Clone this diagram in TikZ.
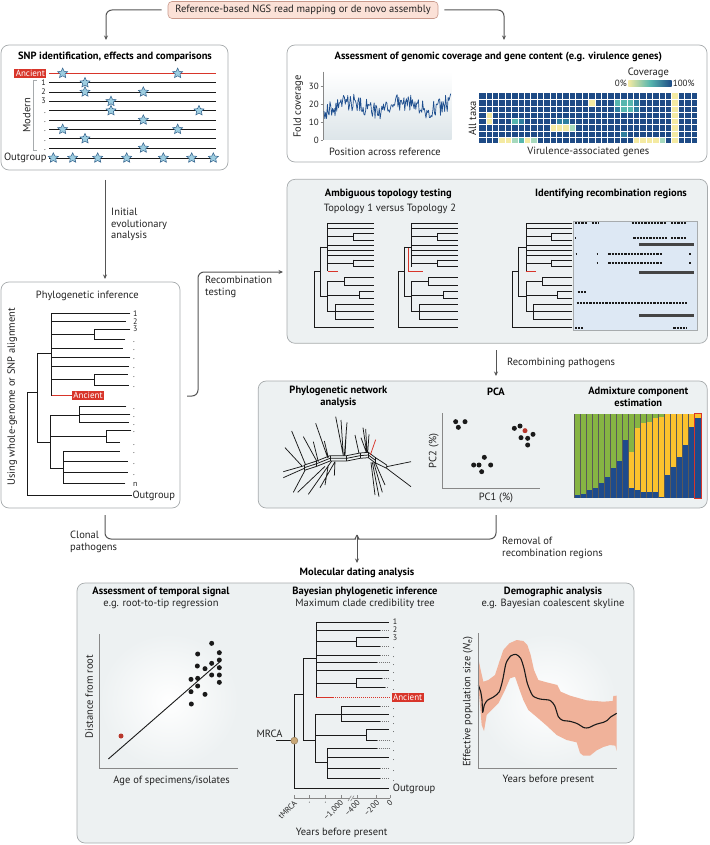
\documentclass[tikz,border=0pt]{standalone}
\usepackage{fontspec}
\setmainfont{PT Sans}
\usetikzlibrary{shapes.geometric,arrows.meta,calc}
\definecolor{boxgray}{HTML}{A7ABAD}
\definecolor{panelbg}{HTML}{EDF1F2}
\definecolor{flowgray}{HTML}{555555}
\definecolor{topfill}{HTML}{FBE1D7}
\definecolor{topdraw}{HTML}{C99A8C}
\definecolor{ancred}{HTML}{D8352A}
\definecolor{starfill}{HTML}{9DCDE0}
\definecolor{stardraw}{HTML}{2F5F8A}
\definecolor{hmblue}{HTML}{1E4B86}
\definecolor{hmyellow}{HTML}{F4EAA2}
\definecolor{hmteal}{HTML}{56B6AE}
\definecolor{hmmid}{HTML}{2F7F9E}
\definecolor{hmlight}{HTML}{A6D9BD}
\definecolor{covblue}{HTML}{1F4F8F}
\definecolor{covbg}{HTML}{DDE5E9}
\definecolor{recbg}{HTML}{DDE8F4}
\definecolor{bargray}{HTML}{444444}
\definecolor{admgreen}{HTML}{86B443}
\definecolor{admyellow}{HTML}{FBC22E}
\definecolor{admblue}{HTML}{1E4B8C}
\definecolor{band}{HTML}{F0B29A}
\definecolor{mrca}{HTML}{C9A877}
\definecolor{mrcad}{HTML}{8A7350}
\definecolor{treeblk}{HTML}{1A1A1A}
\definecolor{dotgray}{HTML}{777777}
\definecolor{axgray}{HTML}{888888}
\definecolor{txtc}{HTML}{222222}
\definecolor{reddot}{HTML}{B8372C}
\begin{document}
\begin{tikzpicture}[x=1pt,y=-1pt,
  panel/.style={draw=boxgray, line width=0.7pt, rounded corners=8pt, fill=white, inner sep=0pt},
  gpanel/.style={panel, fill=panelbg},
  flow/.style={draw=flowgray, line width=1pt, rounded corners=6pt},
  arr/.style={-{Stealth[length=4.5pt,width=4pt]}},
  tx/.style={font=\fontsize{10.5}{11.5}\selectfont, inner sep=0pt, text=txtc},
  bt/.style={font=\bfseries\fontsize{10.5}{11.5}\selectfont, inner sep=0pt, text=black},
  sm/.style={font=\fontsize{9}{9.5}\selectfont, inner sep=0pt, text=txtc},
  tl/.style={font=\fontsize{8}{8.5}\selectfont, inner sep=0pt, text=txtc},
  br/.style={draw=treeblk, line width=0.8pt, line cap=rect},
  rb/.style={draw=ancred, line width=0.8pt},
  dotl/.style={draw=dotgray, line width=0.8pt, dash pattern=on 1pt off 1pt},
  anc/.style={fill=ancred, text=white, font=\fontsize{9}{9.5}\selectfont, inner xsep=1.5pt, inner ysep=1.2pt},
  snpstar/.style={star, star points=5, star point ratio=2.1, minimum size=10.5pt, inner sep=0pt, fill=starfill, draw=stardraw, line width=0.5pt},
  bdot/.style={circle, fill=treeblk, inner sep=0pt, minimum size=5pt},
  axisl/.style={draw=axgray, line width=0.6pt},
]
\useasboundingbox (0,0) rectangle (709,845);

% ---------- panels ----------
\node[tx, draw=topdraw, fill=topfill, rounded corners=4pt, minimum width=270pt, minimum height=17pt, line width=0.6pt] (top) at (303,10) {Reference-based NGS read mapping or de novo assembly};
\node[panel, minimum width=227pt, minimum height=125pt] (snp) at (114.5,107.5) {};
\node[panel, minimum width=420pt, minimum height=117pt] (cov) at (497,103.5) {};
\node[panel, minimum width=179pt, minimum height=226pt] (phy) at (90.5,395) {};
\node[gpanel, minimum width=420.5pt, minimum height=164pt] (topo) at (497.3,261.3) {};
\node[gpanel, minimum width=449pt, minimum height=127pt] (net) at (482.7,444.5) {};
\node[gpanel, minimum width=557pt, minimum height=260pt] (mol) at (355.5,713) {};

% ---------- flow ----------
\coordinate (snpin) at (106,40);
\coordinate (covin) at (504,40);
\draw[flow,arr,shorten <=6pt] (top.west) -| (snpin);
\draw[flow,arr,shorten <=6pt] (top.east) -| (covin);
\coordinate (snpo) at (105,180);
\coordinate (phyi) at (105,279);
\draw[flow,arr] (snpo) -- (phyi);
\node[tx, anchor=north west, align=left] (iea) at (111,208) {Initial\\evolutionary\\analysis};
\coordinate (rto) at (187,396);
\coordinate (topi) at (283,272);
\draw[flow,arr] (rto) -- ++(11,0) |- (topi);
\node[tx, anchor=north west, align=left] (rtl) at (205,276) {Recombination\\testing};
\coordinate (rpo) at (496,350);
\coordinate (rpi) at (496,376);
\draw[flow,arr] (rpo) -- (rpi);
\node[tx, anchor=west] (rpl) at (507,363) {Recombining pathogens};
\coordinate (clo) at (105,515);
\coordinate (rmo) at (496,515);
\coordinate (cusp) at (357,535);
\coordinate (mdi) at (357,563);
\draw[flow] (clo) |- ($(cusp)+(-7,4)$) to[out=0,in=270] (cusp);
\draw[flow] (rmo) |- ($(cusp)+(7,4)$) to[out=180,in=270] (cusp);
\draw[flow,arr] (cusp) -- (mdi);
\node[tx, anchor=north west, align=left] (cll) at (70,531) {Clonal\\pathogens};
\node[tx, anchor=north west, align=left] (rml) at (502,537) {Removal of\\recombination regions};
\node[bt] (mdl) at (357,573) {Molecular dating analysis};

% ---------- SNP panel ----------
\begin{scope}[shift={(0,40)}, x=0.33333pt, y=-0.33333pt]
\node[bt] (snpt) at (345,50) {SNP identification, effects and comparisons};
\draw[ancred, line width=0.8pt] (147,100) -- (648,100);
\node[anc, anchor=east] (snpanc) at (140,100) {Ancient};
\foreach \y/\lab [count=\i] in {128/1,156/2,184/3,212/.,240/.,268/.,296/.,324/.}{
  \draw[treeblk, line width=0.8pt] (147,\y) -- (648,\y);
  \node[tl, anchor=base east] (snl\i) at (138,{\y+8}) {\lab};
}
\draw[treeblk, line width=0.8pt] (147,354) -- (648,354);
\node[tx, anchor=east] (snpout) at (140,354) {Outgroup};
\draw[boxgray, line width=0.8pt] (110,122) -- (100,122) -- (100,330) -- (110,330);
\node[tx, rotate=90] (modern) at (80,226) {Modern};
\foreach \x/\y [count=\i] in {188/100,533/100,255/128,255/156,430/156,333/184,333/212,597/212,430/240,188/268,533/268,255/296,430/324,160/354,218/354,293/354,380/354,490/354,575/354,640/354}{
  \node[snpstar] (st\i) at (\x,\y) {};
}
\end{scope}

% ---------- Phylogenetic inference ----------
\begin{scope}[shift={(0,230)}, x=0.33333pt, y=-0.33333pt]
\node[tx] (pit) at (262,197) {Phylogenetic inference};
\node[tx, rotate=90] (piy) at (37,500) {Using whole-genome or SNP alignment};
\draw[br] (82,487) -- (82,795) -- (395,795)
  (82,487) -- (112,487) (112,370) -- (112,638)
  (112,370) -- (155,370) (112,638) -- (150,638)
  (155,250) -- (155,497)
  (155,250) -- (390,250) (155,274) -- (377,274)
  (155,312) -- (284,312) (284,297) -- (284,328) (284,297) -- (390,297) (284,328) -- (375,328)
  (155,354) -- (368,354) (155,381) -- (390,381) (155,408) -- (386,408)
  (155,449) -- (284,449) (284,433) -- (284,465) (284,433) -- (383,433) (284,465) -- (385,465)
  (150,555) -- (150,715)
  (150,555) -- (238,555) (238,530) -- (238,577) (238,530) -- (378,530) (238,553) -- (390,553) (238,577) -- (385,577)
  (150,618) -- (318,618) (318,600) -- (318,637) (318,600) -- (393,600) (318,637) -- (358,637)
  (150,715) -- (190,715) (190,663) -- (190,760) (190,663) -- (358,663) (190,695) -- (383,695) (190,728) -- (383,728) (190,760) -- (375,760);
\draw[rb] (155,497) -- (215,497);
\node[anc, anchor=west] (pianc) at (215,497) {Ancient};
\foreach \y/\lab [count=\i] in {250/1,274/2,297/3,328/.,354/.,381/.,408/.,433/.,465/.,530/.,553/.,577/.,600/.,637/.,663/.,695/.,728/.,760/n}{
  \node[tl, anchor=base west] (pl\i) at (399,{\y+8}) {\lab};
}
\node[tx, anchor=base west] (plout) at (397,805) {Outgroup};
\end{scope}

% ---------- Coverage panel ----------
\begin{scope}[shift={(285,40)}, x=0.33333pt, y=-0.33333pt]
\node[bt] (covt) at (640,50) {Assessment of genomic coverage and gene content (e.g. virulence genes)};
\shade[top color=white, bottom color=covbg] (115,95) rectangle (500,300);
\draw[axisl] (115,95) -- (115,300);
\foreach \val/\yy in {0/300,10/246.7,20/193.3,30/140}{
  \draw[axisl] (107,\yy) -- (115,\yy);
  \node[sm, anchor=east] (cv\val) at (102,\yy) {\val};
}
\pgfmathsetseed{5}
\draw[covblue, line width=0.7pt, line join=round] plot[domain=117:497, samples=150] (\x, {300-5.33*(19+2.5*sin(2.3*\x)+5*rand)});
\node[tx, rotate=90] (fold) at (40,200) {Fold coverage};
\node[tx] (pos) at (300,337) {Position across reference};
\fill[hmblue] (583,160) rectangle (1237,310);
\foreach \cc/\rr/\cl in {1/3/hmyellow,1/4/hmyellow,17/1/hmyellow,
  21/1/hmteal,22/1/hmteal,23/1/hmteal,24/1/hmmid,21/2/hmmid,22/2/hmteal,23/2/hmteal,24/2/hmmid,
  5/4/hmteal,6/4/hmmid,11/5/hmyellow,12/5/hmyellow,13/5/hmyellow,14/5/hmlight,12/4/hmmid,13/4/hmmid,
  30/0/hmyellow,30/1/hmyellow,30/2/hmyellow,30/3/hmyellow,30/4/hmyellow,30/5/hmyellow,30/6/hmyellow,30/7/hmyellow,
  3/7/hmyellow,4/7/hmyellow,5/7/hmlight,6/7/hmteal,7/7/hmyellow,8/7/hmlight,
  24/7/hmyellow,25/7/hmyellow,26/7/hmyellow,27/7/hmyellow,28/7/hmlight,22/6/hmmid}{
  \fill[\cl] ({583+19.235*\cc},{160+18.75*\rr}) rectangle ++(19.235,18.75);
}
\foreach \cc in {1,...,33} \draw[white, line width=0.4pt] ({583+19.235*\cc},160) -- ({583+19.235*\cc},310);
\foreach \rr in {1,...,7} \draw[white, line width=0.4pt] (583,{160+18.75*\rr}) -- (1237,{160+18.75*\rr});
\node[tx] (cbt) at (1090,100) {Coverage};
\shade[left color=hmyellow, right color=hmblue, middle color=hmteal] (1030,122) rectangle (1160,140);
\node[sm, anchor=east] (cb0) at (1026,131) {0\%};
\node[sm, anchor=west] (cb1) at (1163,131) {100\%};
\node[tx, rotate=90] (alltaxa) at (562,235) {All taxa};
\node[tx] (vag) at (910,337) {Virulence-associated genes};
\end{scope}

% ---------- Topology panel ----------
\newcommand{\topobody}{%
\draw[br] (0,380) -- (0,548) -- (178,548)
 (0,380) -- (17,380) (17,306) -- (17,455) (17,306) -- (40,306) (17,455) -- (40,455)
 (40,235) -- (178,235) (40,250) -- (178,250)
 (40,275) -- (117,275) (117,265) -- (117,285) (117,265) -- (178,265) (117,285) -- (178,285)
 (40,300) -- (178,300) (40,315) -- (178,315) (40,330) -- (178,330)
 (40,355) -- (117,355) (117,345) -- (117,365) (117,345) -- (178,345) (117,365) -- (178,365)
 (40,409) -- (40,500)
 (40,409) -- (90,409) (90,398) -- (90,420) (90,398) -- (178,398) (90,420) -- (178,420)
 (40,450) -- (134,450) (134,440) -- (134,460) (134,440) -- (178,440) (134,460) -- (178,460)
 (40,500) -- (62,500) (62,478) -- (62,522) (62,478) -- (178,478) (62,500) -- (178,500) (62,522) -- (178,522);}
\begin{scope}[shift={(285,145)}, x=0.33333pt, y=-0.33333pt]
\node[bt] (att) at (310,148) {Ambiguous topology testing};
\node[tx] (tvt) at (315,192) {Topology 1 versus Topology 2};
\node[bt] (irr) at (978,148) {Identifying recombination regions};
\begin{scope}[shift={(88,0)}]
 \topobody
 \draw[br] (40,235) -- (40,378);
 \draw[rb] (40,378) -- (70,378);
\end{scope}
\begin{scope}[shift={(340,0)}]
 \topobody
 \draw[br] (40,235) -- (40,365);
 \draw[rb] (30,310) -- (30,380) -- (75,380);
\end{scope}
\draw[boxgray, fill=recbg, line width=0.5pt] (865,230) rectangle (1237,557);
\begin{scope}[shift={(683,0)}]
 \topobody
 \draw[br] (40,235) -- (40,378);
 \draw[rb] (40,378) -- (70,378);
\end{scope}
\foreach \y/\a/\b in {235/870/905,235/920/940,235/1040/1145,235/1158/1205,
  280/870/874,280/1045/1145,280/1158/1205,
  328/872/876,328/935/939,328/970/1130,328/1213/1217,
  355/935/939,355/970/1130,355/1213/1217,
  440/878/905,475/875/1205,548/870/895,548/1165/1205}{
  \draw[treeblk, line width=2.2pt, dash pattern=on 2.2pt off 1pt] (\a,\y) -- (\b,\y);
}
\foreach \y in {298,382,512} \draw[bargray, line width=3.3pt] (1062,\y) -- (1228,\y);
\end{scope}

% ---------- network / PCA / admixture ----------
\begin{scope}[shift={(285,375)}, x=0.33333pt, y=-0.33333pt]
\node[bt, align=center] (pna) at (160,66) {Phylogenetic network\\analysis};
\node[bt] (pca) at (633,50) {PCA};
\node[bt, align=center] (ace) at (1060,66) {Admixture component\\estimation};
\draw[axisl] (472,115) -- (472,340) -- (765,340);
\node[tx, rotate=90] (pc2) at (446,228) {PC2 (\%)};
\node[tx] (pc1) at (633,370) {PC1 (\%)};
\foreach \x/\y [count=\i] in {512/140,540/140,520/157,688/160,705/153,708/188,728/190,744/178,728/210,598/247,566/270,582/270,617/270,590/290}{
  \node[bdot] (pd\i) at (\x,\y) {};
}
\node[bdot, fill=reddot] (pdr) at (720,167) {};
\foreach \i/\bl/\yl in {0/360/360,1/357/357,2/345/345,3/338/338,4/325/325,5/305/305,6/280/280,7/258/258,8/195/195,9/340/230,10/345/160,11/350/145,12/350/140,13/350/130,14/365/125,15/300/118,16/275/118,17/245/118,18/210/118,19/155/118}{
  \fill[admgreen] ({868+18*\i},118) rectangle ({886+18*\i},\yl);
  \fill[admyellow] ({868+18*\i},\yl) rectangle ({886+18*\i},\bl);
  \fill[admblue] ({868+18*\i},\bl) rectangle ({886+18*\i},368);
}
\fill[admyellow] (1228,118) rectangle (1248,130);
\fill[admblue] (1228,130) rectangle (1248,368);
\foreach \i in {0,...,20} \draw[black!65, line width=0.4pt] ({868+18*\i},118) -- ({868+18*\i},368);
\draw[ancred, line width=1pt] (1228,116) rectangle (1248,370);
\end{scope}
\begin{scope}[shift={(285,405)}, x=0.33333pt, y=-0.33333pt, treeblk, line width=0.75pt]
\foreach \o in {-8,0,8}{
 \draw (58,{188+\o}) -- (95,{176+\o}) -- (135,{160+\o}) -- (185,{160+\o}) -- (225,{152+\o}) -- (250,{150+\o}) -- (270,{165+\o});
}
\foreach \x/\y in {58/188,95/176,135/160,185/160,225/152,250/150,270/165} \draw (\x,{\y-8}) -- (\x,{\y+8});
\draw (270,157) -- (305,180) (270,173) -- (305,190) (305,180) -- (305,190);
\draw (58,182) -- (-5,200) (58,190) -- (-5,218) (60,196) -- (25,262)
 (62,180) -- (20,78) (0,128) -- (50,182)
 (95,168) -- (55,95) (100,170) -- (85,110)
 (128,158) -- (92,55) (130,158) -- (118,108)
 (175,152) -- (152,35) (175,152) -- (168,45) (178,152) -- (186,52) (180,152) -- (184,75)
 (222,145) -- (210,90)
 (245,142) -- (234,68) (246,142) -- (242,72) (248,143) -- (252,88) (244,142) -- (228,98)
 (305,185) -- (378,170) (305,190) -- (378,245)
 (262,172) -- (282,275) (266,172) -- (292,262) (270,172) -- (300,240) (258,172) -- (270,270)
 (150,170) -- (105,248) (140,168) -- (70,268) (120,184) -- (38,262) (150,170) -- (148,212) (130,180) -- (120,240);
\draw[ancred] (256,150) -- (272,104);
\end{scope}

% ---------- bottom titles ----------
\node[bt] (tst) at (161,592) {Assessment of temporal signal};
\node[tx] (tss) at (161,604) {e.g. root-to-tip regression};
\node[bt] (bpt) at (365,592) {Bayesian phylogenetic inference};
\node[tx] (bps) at (365,604) {Maximum clade credibility tree};
\node[bt] (dat) at (553,592) {Demographic analysis};
\node[tx] (das) at (553,604) {e.g. Bayesian coalescent skyline};

% ---------- temporal ----------
\begin{scope}[shift={(75,625)}, x=0.33333pt, y=-0.33333pt]
\shade[inner color=white, outer color=panelbg] (73,25) rectangle (490,430);
\draw[axisl] (73,28) -- (73,430) -- (490,430);
\draw[treeblk, line width=0.9pt] (100,402) -- (435,110);
\node[bdot, fill=reddot] (trd) at (138,333) {};
\foreach \x/\y [count=\i] in {410/55,368/87,433/83,433/105,367/123,390/131,410/115,433/128,348/163,368/160,410/150,433/150,433/172,368/183,348/200,390/208,349/237}{
  \node[bdot] (td\i) at (\x,\y) {};
}
\node[tx, rotate=90] (dfr) at (43,215) {Distance from root};
\node[tx] (aos) at (290,467) {Age of specimens/isolates};
\end{scope}

% ---------- Bayesian tree ----------
\begin{scope}[shift={(270,625)}, x=0.33333pt, y=-0.33333pt]
\draw[br] (73,208) -- (73,490) -- (355,490)
 (73,208) -- (100,208) (100,100) -- (100,347) (100,100) -- (140,100) (100,347) -- (137,347)
 (140,-9) -- (140,218)
 (140,-9) -- (355,-9) (140,15) -- (330,15)
 (140,50) -- (258,50) (258,37) -- (258,63) (258,37) -- (355,37) (258,63) -- (330,63)
 (140,90) -- (330,90) (140,113) -- (320,113) (140,137) -- (355,137)
 (140,175) -- (258,175) (258,160) -- (258,188) (258,160) -- (335,160) (258,188) -- (345,188)
 (137,268) -- (137,413)
 (137,268) -- (213,268) (213,245) -- (213,290) (213,245) -- (330,245) (213,268) -- (355,268) (213,290) -- (330,290)
 (137,330) -- (290,330) (290,313) -- (290,345) (290,313) -- (355,313) (290,345) -- (320,345)
 (137,413) -- (172,413) (172,370) -- (172,460) (172,370) -- (320,370) (172,398) -- (355,398) (172,430) -- (330,430) (172,460) -- (330,460)
 (20,347) -- (73,347);
\foreach \a/\y in {330/15,330/63,330/90,320/113,335/160,345/188,330/245,330/290,320/345,320/370,330/430,330/460}{
  \draw[dotl] (\a,\y) -- (357,\y);
}
\draw[rb] (137,218) -- (190,218);
\draw[rb, dash pattern=on 1pt off 1pt] (190,218) -- (362,218);
\node[anc, anchor=west] (banc) at (364,218) {Ancient};
\node[circle, fill=mrca, draw=mrcad, line width=0.4pt, minimum size=7pt, inner sep=0pt] (mrcac) at (73,347) {};
\node[tx, anchor=east] (mrcal) at (38,326) {MRCA};
\foreach \y/\lab [count=\i] in {-9/1,15/2,37/3,63/.,90/.,113/.,137/.,160/.,188/.,245/.,268/.,290/.,313/.,345/.,370/.,398/.,430/.,460/.}{
  \node[tl, anchor=base west] (bl\i) at (368,{\y+8}) {\lab};
}
\node[tx, anchor=base west] (bout) at (368,500) {Outgroup};
\draw[axisl] (73,520) -- (240,520) (250,520) -- (360,520);
\draw[axisl] (234,528) -- (244,512) (242,528) -- (252,512);
\foreach \x/\lab [count=\i] in {73/tMRCA,117/.,165/.,213/{–1,000},262/–400,320/–200,360/0}{
  \draw[axisl] (\x,520) -- (\x,511);
  \node[tl, rotate=45, anchor=east] (bx\i) at ({\x+4},530) {\lab};
}
\node[tx] (ybp) at (215,625) {Years before present};
\end{scope}

% ---------- Demographic ----------
\begin{scope}[shift={(470,625)}, x=0.33333pt, y=-0.33333pt]
\shade[inner color=white, outer color=panelbg] (25,25) rectangle (440,430);
\fill[band] (25,100) -- (32,135) -- (40,170) -- (55,165) -- (75,150) -- (88,110) -- (100,75) -- (118,55) -- (140,45) -- (160,48) -- (172,60) -- (182,90) -- (192,135) -- (205,165) -- (230,172) -- (262,180) -- (272,200) -- (300,212) -- (350,226) -- (400,230) -- (428,228) -- (430,213) -- (440,212)
 -- (440,378) -- (436,362) -- (420,360) -- (400,366) -- (380,376) -- (360,392) -- (340,392) -- (330,384) -- (320,352) -- (290,345) -- (260,330) -- (230,302) -- (200,276) -- (175,255) -- (160,225) -- (150,198) -- (135,155) -- (120,160) -- (105,195) -- (85,235) -- (65,255) -- (50,270) -- (42,318) -- (35,300) -- (30,240) -- (25,180) -- cycle;
\draw[treeblk, line width=1.1pt, line join=round] plot[smooth, tension=0.4] coordinates {(25,180) (32,200) (36,225) (38,262) (43,240) (52,226) (72,215) (88,200) (98,165) (108,115) (122,93) (138,88) (152,100) (162,130) (172,175) (188,212) (210,222) (240,226) (254,242) (265,275) (278,286) (300,289) (322,296) (342,308) (356,308) (378,298) (400,292) (412,286) (422,276) (440,265)};
\draw[axisl] (25,25) -- (25,430) -- (440,430);
\node[tx, rotate=90] (eps) at (-7,230) {Effective population size (\textit{N}\textsubscript{e})};
\node[tx] (dyb) at (235,465) {Years before present};
\end{scope}
\end{tikzpicture}
\end{document}
